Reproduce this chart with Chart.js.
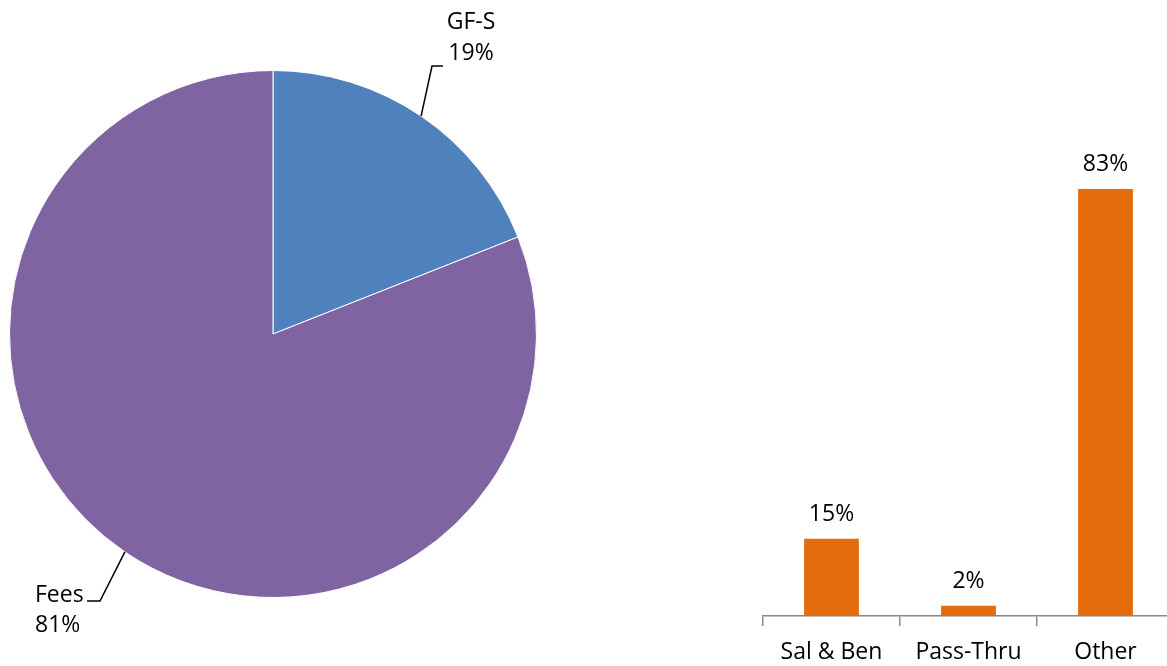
<!DOCTYPE html>
<html><head><meta charset="utf-8">
<script src="https://cdn.jsdelivr.net/npm/chart.js@4"></script>
<style>
html,body{margin:0;padding:0;background:#fff;overflow:hidden;width:1167px;height:666px;}
#pie{position:absolute;left:0;top:0;width:700px;height:666px;}
#bar{position:absolute;left:700px;top:0;width:480px;height:666px;}
</style></head><body>
<canvas id="pie" width="700" height="666"></canvas>
<canvas id="bar" width="480" height="666"></canvas>
<script>
const pieLabels = ['GF-S', 'Fees'];
const pieValues = [19, 81];
const pieColors = ['#4F81BD', '#8064A2'];

const barCategories = ['Sal & Ben', 'Pass-Thru', 'Other'];
const barValues = [15, 2, 83];
const barColor = '#E46C0A';

const FONT = '"Open Sans", "Liberation Sans", sans-serif';
const FONT_SIZE = 23;

const pieLabelPlugin = {
  id: 'pieLabels',
  afterDatasetsDraw(chart, args, opts) {
    const ctx = chart.ctx;
    const meta = chart.getDatasetMeta(0);
    const data = chart.data.datasets[0].data;
    const total = data.reduce((a, b) => a + b, 0);
    ctx.save();
    meta.data.forEach((arc, i) => {
      const cfg = opts.items[i];
      const mid = (arc.startAngle + arc.endAngle) / 2;
      const sx = arc.x + Math.cos(mid) * arc.outerRadius;
      const sy = arc.y + Math.sin(mid) * arc.outerRadius;
      ctx.strokeStyle = '#000';
      ctx.lineWidth = 1.5;
      ctx.beginPath();
      ctx.moveTo(sx, sy);
      ctx.lineTo(cfg.elbowX, cfg.elbowY);
      ctx.lineTo(cfg.endX, cfg.elbowY);
      ctx.stroke();
      ctx.fillStyle = '#000';
      ctx.font = FONT_SIZE + 'px ' + FONT;
      ctx.textAlign = cfg.align;
      ctx.textBaseline = 'alphabetic';
      ctx.fillText(chart.data.labels[i], cfg.textX, cfg.y1);
      ctx.fillText(Math.round(data[i] / total * 100) + '%', cfg.textX, cfg.y2);
    });
    ctx.restore();
  }
};

new Chart(document.getElementById('pie'), {
  type: 'pie',
  data: {
    labels: pieLabels,
    datasets: [{ data: pieValues, backgroundColor: pieColors, borderColor: '#fff', borderWidth: 1, hoverOffset: 0 }]
  },
  options: {
    responsive: false,
    animation: false,
    layout: { padding: { left: 9, right: 163, top: 70, bottom: 68 } },
    plugins: {
      legend: { display: false },
      tooltip: { enabled: false },
      pieLabels: {
        items: [
          { elbowX: 432, elbowY: 66, endX: 443, textX: 471, align: 'center', y1: 29, y2: 60 },
          { elbowX: 100, elbowY: 601, endX: 87, textX: 35, align: 'left', y1: 602, y2: 632 }
        ]
      }
    }
  },
  plugins: [pieLabelPlugin]
});

const barLabelPlugin = {
  id: 'barLabels',
  afterDatasetsDraw(chart) {
    const ctx = chart.ctx;
    const meta = chart.getDatasetMeta(0);
    const data = chart.data.datasets[0].data;
    ctx.save();
    ctx.fillStyle = '#000';
    ctx.font = FONT_SIZE + 'px ' + FONT;
    ctx.textAlign = 'center';
    ctx.textBaseline = 'alphabetic';
    meta.data.forEach((bar, i) => {
      ctx.fillText(data[i] + '%', bar.x, bar.y - 18);
    });
    ctx.restore();
  }
};

new Chart(document.getElementById('bar'), {
  type: 'bar',
  data: {
    labels: barCategories,
    datasets: [{ data: barValues, backgroundColor: barColor, categoryPercentage: 1, barPercentage: 0.4 }]
  },
  options: {
    responsive: false,
    animation: false,
    layout: { padding: { left: 63, right: 6, top: 101.5, bottom: 0 } },
    plugins: { legend: { display: false }, tooltip: { enabled: false } },
    scales: {
      y: { display: false, min: 0, max: 100 },
      x: {
        afterFit(scale) { scale.height = 50; },
        border: { display: true, color: '#8a8a8a', width: 1.5 },
        grid: { offset: true, drawOnChartArea: false, drawTicks: true, tickLength: 10, color: '#8a8a8a', lineWidth: 1.5 },
        ticks: { color: '#000', font: { family: FONT, size: FONT_SIZE }, padding: 13, maxRotation: 0, autoSkip: false }
      }
    }
  },
  plugins: [barLabelPlugin]
});
</script>
</body></html>
